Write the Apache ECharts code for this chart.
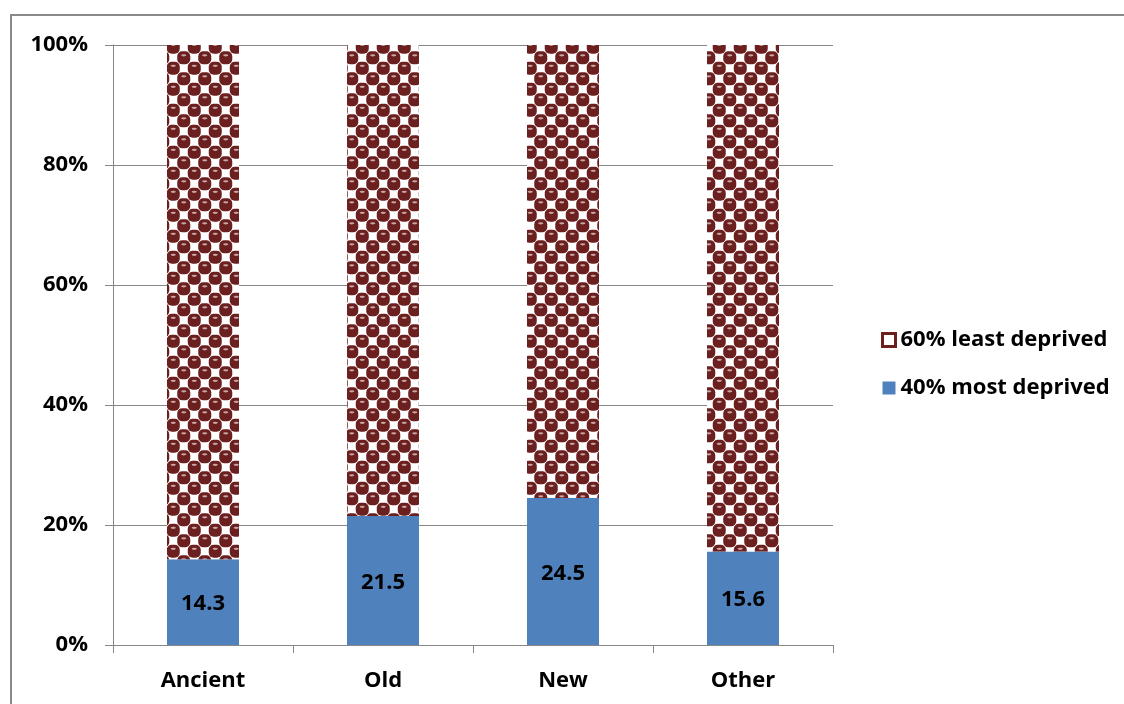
<!DOCTYPE html>
<html>
<head>
<meta charset="utf-8">
<script src="https://cdn.jsdelivr.net/npm/echarts@6/dist/echarts.min.js"></script>
<style>
html,body{margin:0;padding:0;background:#fff;}
#chart{width:1124px;height:704px;}
</style>
</head>
<body>
<div id="chart"></div>
<script>
const categories = ['Ancient', 'Old', 'New', 'Other'];
const mostDeprived = [14.3, 21.5, 24.5, 15.6];
const leastDeprived = [85.7, 78.5, 75.5, 84.4];
const yTicks = [0, 20, 40, 60, 80, 100];

function makePattern() {
  const s = 21;
  const c = document.createElement('canvas');
  c.width = s; c.height = s;
  const g = c.getContext('2d');
  g.fillStyle = '#ffffff';
  g.fillRect(0, 0, s, s);
  const h = s / 4;
  const centers = [];
  [[h, h], [3 * h, 3 * h]].forEach(([x, y]) => {
    for (let dx = -s; dx <= s; dx += s) for (let dy = -s; dy <= s; dy += s) centers.push([x + dx, y + dy]);
  });
  const w = 13, r = 5;
  centers.forEach(([x, y]) => {
    g.fillStyle = '#6B1F1F';
    g.beginPath();
    g.roundRect(x - w / 2, y - w / 2, w, w, r);
    g.fill();
  });
  centers.forEach(([x, y]) => {
    g.fillStyle = '#C9A5A5';
    g.beginPath(); g.ellipse(x, y - 2.4, 2.6, 1.1, 0, 0, Math.PI * 2); g.fill();
  });
  return c;
}
const pattern = { image: makePattern(), repeat: 'repeat' };

const chart = echarts.init(document.getElementById('chart'));
const FONT = 'Open Sans';
chart.setOption({
  animation: false,
  backgroundColor: '#ffffff',
  graphic: [{
    type: 'rect',
    shape: { x: 11, y: 15, width: 1300, height: 900 },
    style: { fill: 'none', stroke: '#898989', lineWidth: 2 },
    silent: true
  }],
  grid: { left: 113, right: 291, top: 45, bottom: 59 },
  legend: {
    orient: 'vertical',
    left: 876,
    top: 324,
    itemWidth: 13,
    itemHeight: 13,
    itemGap: 26,
    icon: 'rect',
    data: [
      { name: '60% least deprived', itemStyle: { color: '#ffffff', borderColor: '#6B1F1F', borderWidth: 3 } },
      { name: '40% most deprived' }
    ],
    textStyle: { fontFamily: FONT, fontWeight: 'bold', fontSize: 22, color: '#000', padding: [0, 0, 0, 0] }
  },
  xAxis: {
    type: 'category',
    data: categories,
    axisLine: { lineStyle: { color: '#868686', width: 1 } },
    axisTick: { show: true, length: 8, lineStyle: { color: '#868686' } },
    axisLabel: { margin: 25, fontFamily: FONT, fontWeight: 'bold', fontSize: 22, color: '#000' }
  },
  yAxis: {
    type: 'value',
    min: 0, max: 100, interval: 20,
    axisLine: { show: true, lineStyle: { color: '#868686', width: 1 } },
    axisTick: { show: true, length: 8, lineStyle: { color: '#868686' } },
    splitLine: { lineStyle: { color: '#868686', width: 1 } },
    axisLabel: {
      margin: 25, fontFamily: FONT, fontWeight: 'bold', fontSize: 22, color: '#000',
      formatter: v => (yTicks.indexOf(v) >= 0 ? v + '%' : '')
    }
  },
  series: [
    {
      name: '40% most deprived',
      type: 'bar',
      stack: 'total',
      barWidth: 72,
      data: mostDeprived,
      itemStyle: { color: '#4F81BD' },
      label: {
        show: true, position: 'inside', offset: [0, 2],
        fontFamily: FONT, fontWeight: 'bold', fontSize: 22, color: '#000',
        formatter: p => p.value.toFixed(1)
      }
    },
    {
      name: '60% least deprived',
      type: 'bar',
      stack: 'total',
      barWidth: 72,
      data: leastDeprived,
      itemStyle: { color: pattern }
    }
  ]
});
</script>
</body>
</html>
